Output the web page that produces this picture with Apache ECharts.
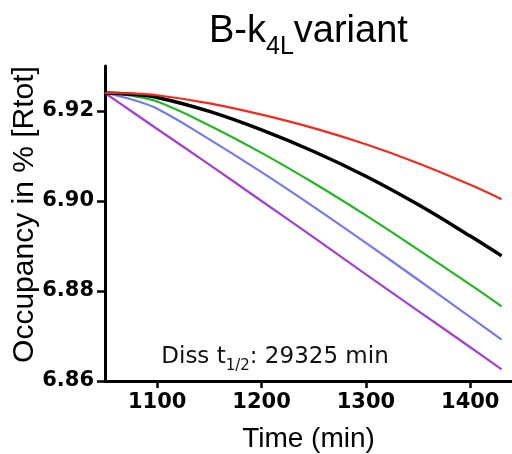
<!DOCTYPE html>
<html>
<head>
<meta charset="utf-8">
<script src="https://cdn.jsdelivr.net/npm/echarts@6/dist/echarts.min.js"></script>
<style>html,body{margin:0;padding:0;background:#fff}#c{width:512px;height:454px}</style>
</head>
<body>
<div id="c"></div>
<script>
var times = [1050, 1075, 1100, 1150, 1200, 1250, 1300, 1350, 1400, 1430];
var redVals    = [6.9240, 6.9239, 6.9235, 6.9217, 6.9192, 6.9162, 6.9126, 6.9084, 6.9036, 6.9004];
var blackVals  = [6.9240, 6.9237, 6.9230, 6.9199, 6.9158, 6.9110, 6.9055, 6.8992, 6.8922, 6.8878];
var greenVals  = [6.9240, 6.9234, 6.9221, 6.9168, 6.9107, 6.9040, 6.8968, 6.8892, 6.8814, 6.8766];
var blueVals   = [6.9240, 6.9226, 6.9205, 6.9137, 6.9064, 6.8987, 6.8907, 6.8825, 6.8742, 6.8692];
var purpleVals = [6.9240, 6.9200, 6.9160, 6.9081, 6.9000, 6.8919, 6.8837, 6.8756, 6.8675, 6.8626];
var xTicks = [1100, 1200, 1300, 1400];
var yTicks = [6.86, 6.88, 6.90, 6.92];

function pairs(vals) { return times.map(function (t, i) { return [t, vals[i]]; }); }
function mk(name, vals, color, w) {
  return { name: name, type: 'line', data: pairs(vals), showSymbol: false, smooth: 0.4,
    lineStyle: { color: color, width: w }, itemStyle: { color: color }, z: 3 };
}
var chart = echarts.init(document.getElementById('c'));
chart.setOption({
  animation: false,
  backgroundColor: '#fff',
  title: {
    left: 209, top: 13, padding: 0,
    text: '{a|B-k}{s|4L}{a|variant}',
    textStyle: {
      fontWeight: 'normal',
      rich: {
        a: { fontSize: 38, fontWeight: 'normal', fontFamily: 'Liberation Sans', color: '#000', lineHeight: 40, verticalAlign: 'top' },
        s: { fontSize: 25, fontWeight: 'normal', fontFamily: 'Liberation Sans', color: '#000', lineHeight: 24, padding: [22, 0, 0, 0], verticalAlign: 'top' }
      }
    }
  },
  grid: { left: 105, right: 0, top: 66, bottom: 73, outerBoundsMode: 'none', containLabel: false },
  xAxis: {
    type: 'value', min: 1050, max: 1440,
    name: 'Time (min)', nameLocation: 'middle', nameGap: 44, nameMoveOverlap: false,
    nameTextStyle: { fontSize: 28, fontFamily: 'Liberation Sans', color: '#000' },
    axisLine: { show: true, lineStyle: { color: '#000', width: 3 } },
    axisTick: { show: true, customValues: xTicks, length: 7, lineStyle: { color: '#000', width: 2.5 } },
    axisLabel: { customValues: xTicks, margin: 11, fontSize: 21, fontWeight: 'bold', fontFamily: 'DejaVu Sans', color: '#000',
      formatter: function (v) { return String(v); } },
    splitLine: { show: false }
  },
  yAxis: {
    type: 'value', min: 6.86, max: 6.93,
    name: 'Occupancy in % [Rtot]', nameLocation: 'middle', nameGap: 65, nameMoveOverlap: false,
    nameTextStyle: { fontSize: 30, fontFamily: 'Liberation Sans', color: '#000', padding: [0, 0, 0, 18] },
    axisLine: { show: true, lineStyle: { color: '#000', width: 3 } },
    axisTick: { show: true, customValues: yTicks, length: 8, lineStyle: { color: '#000', width: 2.5 } },
    axisLabel: { customValues: yTicks, margin: 11, fontSize: 21, fontWeight: 'bold', fontFamily: 'DejaVu Sans', color: '#000',
      formatter: function (v) { return v.toFixed(2); } },
    splitLine: { show: false }
  },
  graphic: [{
    type: 'text', x: 275, y: 346, z: 10,
    style: {
      text: '{a|Diss t}{s|1/2}{a|: 29325 min}',
      align: 'center', verticalAlign: 'top',
      rich: {
        a: { fontSize: 23, fontFamily: 'DejaVu Sans', fill: '#111', color: '#111', lineHeight: 26, verticalAlign: 'top' },
        s: { fontSize: 15, fontFamily: 'DejaVu Sans', fill: '#111', color: '#111', lineHeight: 16, padding: [13, 0, 0, 0], verticalAlign: 'top' }
      }
    }
  }],
  series: [
    mk('purple', purpleVals, '#a43fd6', 2.2),
    mk('blue', blueVals, '#7479ec', 2.2),
    mk('green', greenVals, '#1fb81f', 2.2),
    mk('black', blackVals, '#000000', 3.5),
    mk('red', redVals, '#f4291d', 2.2)
  ]
});
</script>
</body>
</html>
